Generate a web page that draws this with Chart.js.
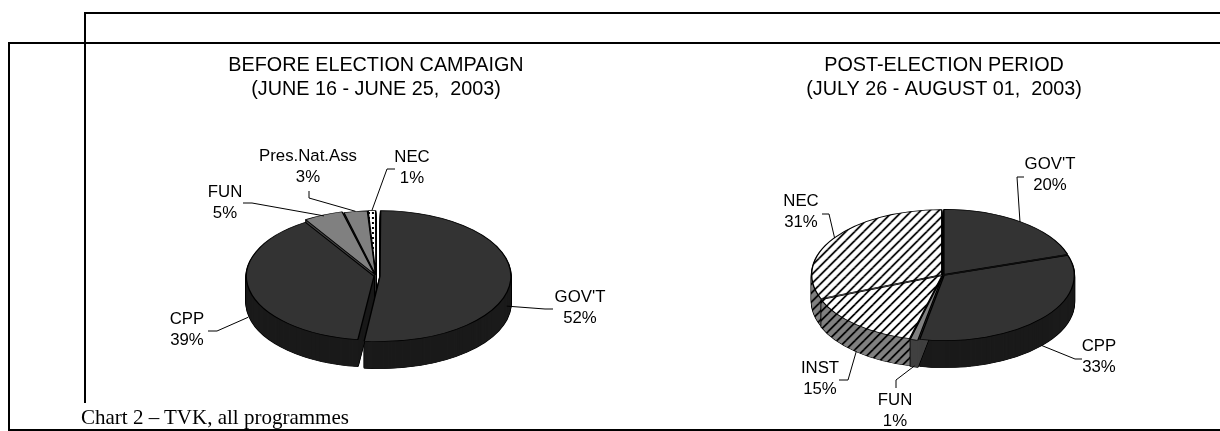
<!DOCTYPE html>
<html>
<head>
<meta charset="utf-8">
<title>Chart 2 - TVK, all programmes</title>
<script src="https://cdn.jsdelivr.net/npm/chart.js@4/dist/chart.umd.js"></script>
<style>
    html, body { margin: 0; padding: 0; background: #fff; }
    body { position: relative; width: 1220px; height: 431px; overflow: hidden; }
    canvas { position: absolute; top: 0; }
    #leftPie { left: 0; }
    #rightPie { left: 668px; }
    .rule { position: absolute; background: #000; }
    #caption {
        position: absolute; left: 81px; top: 406px;
        font: 21px/22px "Liberation Serif", serif; color: #000;
        white-space: nowrap;
    }
</style>
</head>
<body>
<div class="rule" style="left:84px;top:12px;width:1136px;height:2px"></div>
<div class="rule" style="left:8px;top:42px;width:1212px;height:2px"></div>
<div class="rule" style="left:8px;top:43px;width:2px;height:387px"></div>
<div class="rule" style="left:84px;top:13px;width:2px;height:390px"></div>
<div class="rule" style="left:8px;top:429px;width:1212px;height:2px"></div>
<canvas id="leftPie" width="752" height="431"></canvas>
<canvas id="rightPie" width="552" height="431"></canvas>
<div id="caption">Chart 2 – TVK, all programmes</div>

<script>
// chart data
const leftTitle = ['BEFORE ELECTION CAMPAIGN', '(JUNE 16 - JUNE 25,  2003)'];
const leftCategories = ['GOV\'T', 'CPP', 'FUN', 'Pres.Nat.Ass', 'NEC'];
const leftValues = [52, 39, 5, 3, 1];

const rightTitle = ['POST-ELECTION PERIOD', '(JULY 26 - AUGUST 01,  2003)'];
const rightCategories = ['GOV\'T', 'CPP', 'FUN', 'INST', 'NEC'];
const rightValues = [20, 33, 1, 15, 31];

const FONT = '"Liberation Sans", Arial, sans-serif';
const FLATTEN = 0.5;   // ellipse height / width
const DEPTH = 27;      // wall height in pixels

// tile is twice as tall because the pie gets squashed to half height
function hatch(bg) {
    const tile = document.createElement('canvas');
    tile.width = 9;
    tile.height = 18;
    const c = tile.getContext('2d');
    c.fillStyle = bg;
    c.fillRect(0, 0, 9, 18);
    c.strokeStyle = '#000';
    c.lineWidth = 2.2;
    [-9, 0, 9].forEach(dx => {
        c.beginPath();
        c.moveTo(dx, 18);
        c.lineTo(dx + 9, 0);
        c.stroke();
    });
    return c.createPattern(tile, 'repeat');
}

function dots() {
    const tile = document.createElement('canvas');
    tile.width = 4;
    tile.height = 10;
    const c = tile.getContext('2d');
    c.fillStyle = '#fff';
    c.fillRect(0, 0, 4, 10);
    c.fillStyle = '#000';
    c.fillRect(0, 0, 2, 4);
    return c.createPattern(tile, 'repeat');
}

// flattens the pie, draws side walls under it, then leader lines and labels
const pie3d = {
    id: 'pie3d',
    place(chart, arc, ctx, drop) {
        const o = chart.options.plugins.pie3d;
        ctx.translate(o.center[0] - o.left, o.center[1] + drop);
        ctx.scale(1, FLATTEN);
        ctx.translate(-arc.x, -arc.y);
    },
    beforeDatasetsDraw(chart) {
        const ctx = chart.ctx;
        const o = chart.options.plugins.pie3d;
        const arcs = chart.getDatasetMeta(0).data;
        const order = arcs.map((arc, i) => i).sort((a, b) =>
            Math.sin((arcs[a].startAngle + arcs[a].endAngle) / 2) -
            Math.sin((arcs[b].startAngle + arcs[b].endAngle) / 2));

        order.forEach(idx => {
            const arc = arcs[idx];
            const saved = arc.options;
            const wall = o.walls[idx];
            // black silhouette first, wall colour over it
            [1.6, 0].forEach(borderWidth => {
                for (let d = DEPTH; d >= 1; d--) {
                    if (borderWidth === 0 && wall instanceof CanvasPattern) {
                        wall.setTransform(new DOMMatrix().translate(0, -d / FLATTEN));
                    }
                    arc.options = { ...saved, backgroundColor: borderWidth ? '#000' : wall, borderWidth };
                    ctx.save();
                    this.place(chart, arc, ctx, d);
                    arc.draw(ctx);
                    ctx.restore();
                }
            });
            arc.options = saved;
        });

        ctx.save();
        this.place(chart, arcs[0], ctx, 0);
    },
    afterDatasetsDraw(chart) {
        const ctx = chart.ctx;
        const o = chart.options.plugins.pie3d;
        ctx.restore();

        const arcs = chart.getDatasetMeta(0).data;
        const values = chart.data.datasets[0].data;
        ctx.save();
        ctx.translate(-o.left, 0);
        ctx.font = '16.8px ' + FONT;
        ctx.fillStyle = '#000';
        ctx.textAlign = 'center';
        ctx.textBaseline = 'middle';
        ctx.strokeStyle = '#000';
        ctx.lineWidth = 1;
        arcs.forEach((arc, i) => {
            const lab = o.labels[i];
            const mid = (arc.startAngle + arc.endAngle) / 2;
            const sx = o.center[0] + Math.cos(mid) * o.reach;
            const sy = o.center[1] + Math.sin(mid) * o.reach * FLATTEN + lab.drop;
            ctx.beginPath();
            ctx.moveTo(sx, sy);
            lab.path.forEach(p => ctx.lineTo(p[0], p[1]));
            ctx.stroke();
            ctx.fillText(chart.data.labels[i], lab.x, lab.y);
            ctx.fillText(values[i] + '%', lab.x, lab.y + 21.5);
        });
        ctx.restore();
    }
};

function makePie(id, title, categories, values, cfg) {
    return new Chart(document.getElementById(id), {
        type: 'pie',
        data: {
            labels: categories,
            datasets: [{
                data: values,
                backgroundColor: cfg.faces,
                borderColor: '#000',
                borderWidth: 1.4,
                offset: cfg.offsets,
                radius: cfg.radius
            }]
        },
        options: {
            responsive: false,
            animation: false,
            events: [],
            plugins: {
                legend: { display: false },
                tooltip: { enabled: false },
                title: {
                    display: true,
                    text: title,
                    color: '#000',
                    font: { family: FONT, size: 19.8, weight: 'normal', lineHeight: 1.19 },
                    padding: { top: 54, bottom: 0 }
                },
                pie3d: {
                    left: cfg.left,
                    center: cfg.center,
                    reach: 131,
                    walls: cfg.walls,
                    labels: cfg.labels
                }
            }
        },
        plugins: [pie3d]
    });
}

makePie('leftPie', leftTitle, leftCategories, leftValues, {
    left: 0,
    center: [376, 276],
    radius: 127,
    offsets: [16, 8, 14, 8, 8],
    faces: ['#333333', '#333333', '#808080', '#808080', dots()],
    walls: ['#1a1a1a', '#1a1a1a', '#404040', '#404040', '#1a1a1a'],
    labels: [
        { x: 580, y: 297, drop: 26, path: [[545, 309], [553, 309]] },
        { x: 187, y: 319, drop: 27, path: [[217, 331], [208, 331]] },
        { x: 225, y: 192, drop: 0, path: [[252, 203], [243, 203]] },
        { x: 308, y: 156, drop: 0, path: [[309, 198], [309, 191]] },
        { x: 412, y: 157, drop: 0, path: [[387, 169], [395, 169]] }
    ]
});

makePie('rightPie', rightTitle, rightCategories, rightValues, {
    left: 668,
    center: [943, 275],
    radius: 130,
    offsets: [6, 6, 6, 6, 6],
    faces: ['#333333', '#333333', '#808080', hatch('#fff'), hatch('#fff')],
    walls: ['#1a1a1a', '#1a1a1a', '#404040', hatch('#808080'), hatch('#808080')],
    labels: [
        { x: 1050, y: 164, drop: 0, path: [[1017, 177], [1024, 177]] },
        { x: 1099, y: 346, drop: 27, path: [[1075, 359], [1082, 359]] },
        { x: 895, y: 400, drop: 27, path: [[896, 380], [896, 388]] },
        { x: 820, y: 368, drop: 27, path: [[848, 380], [839, 380]] },
        { x: 801, y: 201, drop: 0, path: [[829, 214], [822, 214]] }
    ]
});
</script>
</body>
</html>
